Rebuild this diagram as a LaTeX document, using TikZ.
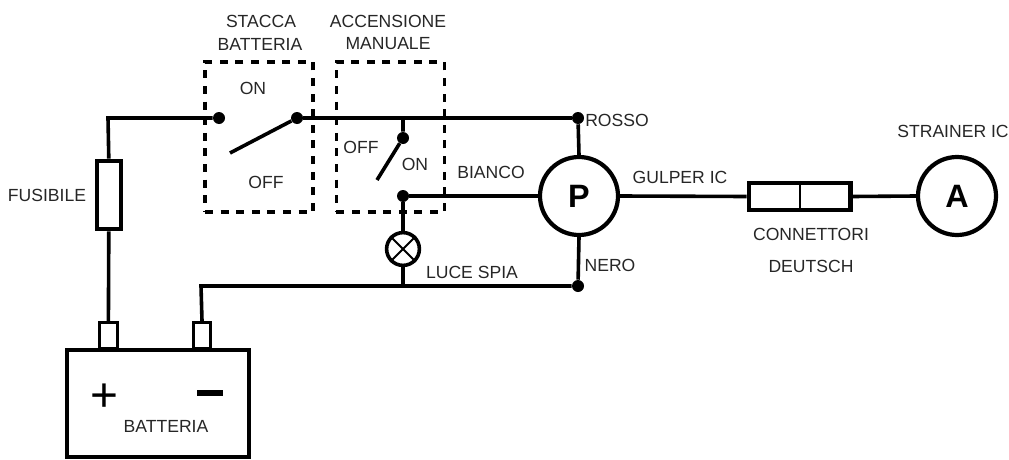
\documentclass[tikz,border=0pt]{standalone}
\usepackage{fontspec}
\setmainfont{Liberation Sans}
\definecolor{scritta}{HTML}{262626}
\tikzset{
	filo/.style={line width=0.09cm},
	scatola/.style={draw, line width=0.115cm, inner sep=0pt},
	cerchio/.style={draw, circle, line width=0.105cm, inner sep=0pt, minimum size=1.95cm, font=\fontsize{23}{23}\selectfont\bfseries},
	punto/.style={circle, fill, inner sep=0pt, minimum size=0.3cm},
	morsetto/.style={draw, line width=0.07cm, inner sep=0pt, minimum width=0.44cm, minimum height=0.66cm},
	tratteggio/.style={draw, line width=0.09cm, dash pattern=on 0.2cm off 0.19cm, inner sep=0pt, minimum width=2.7cm, minimum height=3.75cm},
	testo/.style={text=scritta, inner sep=0pt, font=\fontsize{12.5}{12.5}\selectfont}
}
\begin{document}
\begin{tikzpicture}
	\useasboundingbox (0,0) rectangle (25.225,11.475);

	\node[tratteggio] (stacca) at (6.475,8.05) {};
	\node[tratteggio] (manuale) at (9.76,8.05) {};

	\node[scatola, minimum width=0.6cm, minimum height=1.7cm] (fusibile) at (2.72,6.6) {};
	\node[morsetto] (piupolo) at (2.71,3.09) {};
	\node[morsetto] (menopolo) at (5.05,3.09) {};
	\node[scatola, minimum width=4.55cm, minimum height=2.68cm] (batteria) at (3.95,1.39) {};
	\node[cerchio] (pompa) at (14.475,6.575) {P};
	\node[cerchio] (strainer) at (23.925,6.575) {A};
	\node[scatola, minimum width=2.53cm, minimum height=0.67cm] (deutsch) at (19.99,6.5625) {};
	\node[draw, circle, line width=0.09cm, inner sep=0pt, minimum size=0.82cm] (spia) at (10.075,5.25) {};

	\node[punto] (ingresso) at (5.475,8.525) {};
	\node[punto] (perno) at (7.425,8.525) {};
	\node[punto] (pernoman) at (10.075,8.025) {};
	\node[punto] (bianco) at (10.075,6.575) {};
	\node[punto] (rosso) at (14.45,8.525) {};
	\node[punto] (nero) at (14.45,4.325) {};

	\coordinate (angolopiu) at (2.7,8.525);
	\coordinate (angolomeno) at (5.025,4.325);
	\coordinate (derivazione) at (10.075,8.525);
	\coordinate (massaspia) at (10.075,4.325);
	\coordinate (lama) at (5.75,7.65);
	\coordinate (lamaman) at (9.425,6.975);

	\draw[filo] (piupolo.north) -- (fusibile.south);
	\draw[filo] (fusibile.north) -- (angolopiu) -- (ingresso);
	\draw[filo] (perno) -- (rosso);
	\draw[filo] (perno) -- (lama);
	\draw[filo] (derivazione) -- (pernoman) -- (lamaman);
	\draw[filo] (bianco) -- (pompa.west);
	\draw[filo] (bianco) -- (spia.north);
	\draw[filo] (spia.south) -- (massaspia);
	\draw[filo] (rosso) -- (pompa.north);
	\draw[filo] (pompa.south) -- (nero);
	\draw[filo] (menopolo.north) -- (angolomeno) -- (nero);
	\draw[filo] (pompa.east) -- (deutsch.west);
	\draw[filo] (deutsch.east) -- (strainer.west);
	\draw[line width=0.05cm] (deutsch.north) -- (deutsch.south);
	\draw[line width=0.05cm] (spia.45) -- (spia.225);
	\draw[line width=0.05cm] (spia.135) -- (spia.315);

	\node[text=black, inner sep=0pt, font=\fontsize{34}{34}\selectfont] (piu) at (2.6,1.52) {+};
	\node[fill=black, inner sep=0pt, minimum width=0.65cm, minimum height=0.14cm] (meno) at (5.25,1.65) {};

	\node[testo] (t1) at (6.525,10.95) {STACCA};
	\node[testo] (t2) at (6.5,10.375) {BATTERIA};
	\node[testo] (t3) at (9.7,10.95) {ACCENSIONE};
	\node[testo] (t4) at (9.7,10.375) {MANUALE};
	\node[testo] (t5) at (6.325,9.275) {ON};
	\node[testo] (t6) at (6.65,6.925) {OFF};
	\node[testo] (t7) at (9.025,7.8) {OFF};
	\node[testo] (t8) at (10.375,7.375) {ON};
	\node[testo] (t9) at (12.275,7.175) {BIANCO};
	\node[testo] (t10) at (15.425,8.475) {ROSSO};
	\node[testo] (t11) at (17,7.05) {GULPER IC};
	\node[testo] (t12) at (23.825,8.2) {STRAINER IC};
	\node[testo] (t13) at (20.275,5.625) {CONNETTORI};
	\node[testo] (t14) at (20.275,4.825) {DEUTSCH};
	\node[testo] (t15) at (15.25,4.85) {NERO};
	\node[testo] (t16) at (11.8,4.675) {LUCE SPIA};
	\node[testo] (t17) at (1.175,6.6) {FUSIBILE};
	\node[testo] (t18) at (4.15,0.825) {BATTERIA};
\end{tikzpicture}
\end{document}
